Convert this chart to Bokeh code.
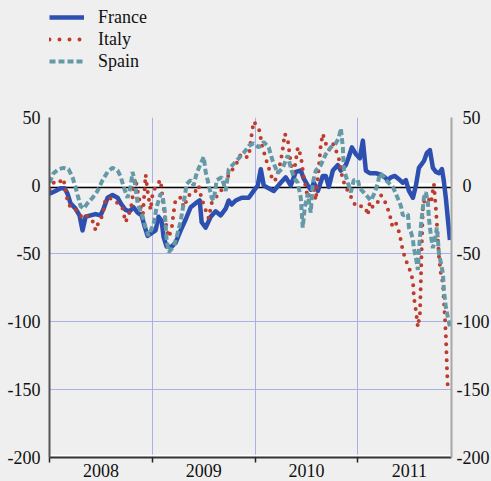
from bokeh.plotting import figure
from bokeh.layouts import column
from bokeh.models import Range1d, FixedTicker, LinearAxis, Legend, LegendItem, Span
from bokeh.embed import file_html
from bokeh.resources import INLINE

# ---------------- data (decimal years, index values) ----------------
france_x = [2008.000, 2008.058, 2008.107, 2008.146, 2008.175, 2008.204, 2008.253, 2008.292, 2008.321, 2008.351,
            2008.399, 2008.448, 2008.497, 2008.526, 2008.565, 2008.613, 2008.662, 2008.701, 2008.740, 2008.779,
            2008.818, 2008.857, 2008.896, 2008.925, 2008.954, 2008.993, 2009.032, 2009.061, 2009.091, 2009.110,
            2009.139, 2009.188, 2009.227, 2009.276, 2009.324, 2009.373, 2009.422, 2009.461, 2009.480, 2009.519,
            2009.568, 2009.616, 2009.665, 2009.714, 2009.743, 2009.772, 2009.811, 2009.870, 2009.938, 2009.986,
            2010.025, 2010.055, 2010.084, 2010.132, 2010.181, 2010.249, 2010.298, 2010.347, 2010.395, 2010.444,
            2010.473, 2010.512, 2010.541, 2010.571, 2010.610, 2010.658, 2010.687, 2010.717, 2010.756, 2010.804,
            2010.834, 2010.882, 2010.911, 2010.941, 2010.980, 2011.018, 2011.048, 2011.077, 2011.116, 2011.174,
            2011.223, 2011.262, 2011.291, 2011.320, 2011.359, 2011.408, 2011.437, 2011.466, 2011.496, 2011.535,
            2011.564, 2011.593, 2011.642, 2011.671, 2011.700, 2011.729, 2011.759, 2011.788, 2011.817, 2011.836,
            2011.856, 2011.875, 2011.895]
france_y = [-6, -4, -2, -2, -6, -13, -17, -22, -33, -23,
            -22, -21, -22, -17, -9, -7, -9, -14, -18, -19,
            -16, -20, -22, -30, -37, -35, -33, -23, -26, -38,
            -45, -45, -42, -33, -25, -16, -13, -11, -27, -31,
            -23, -19, -22, -17, -11, -14, -11, -9, -9, -4,
            0, 12, 0, -2, -4, 2, 6, 0, 10, 11,
            5, 0, -3, 2, -4, 7, 7, -1, 11, 15,
            11, 15, 21, 28, 23, 20, 33, 11, 9, 9,
            8, 6, 4, 6, 7, 4, 2, 4, -4, -9,
            0, 13, 18, 24, 26, 13, 10, 9, 12, 3,
            -10, -25, -40]

italy_x = [2008.000, 2008.029, 2008.068, 2008.107, 2008.136, 2008.156, 2008.175, 2008.204, 2008.243, 2008.282,
           2008.321, 2008.360, 2008.399, 2008.428, 2008.448, 2008.477, 2008.516, 2008.545, 2008.574, 2008.613,
           2008.662, 2008.711, 2008.740, 2008.769, 2008.798, 2008.818, 2008.837, 2008.857, 2008.886, 2008.906,
           2008.935, 2008.954, 2008.983, 2009.003, 2009.032, 2009.061, 2009.081, 2009.100, 2009.120, 2009.139,
           2009.159, 2009.188, 2009.207, 2009.227, 2009.276, 2009.305, 2009.334, 2009.373, 2009.422, 2009.451,
           2009.480, 2009.519, 2009.548, 2009.577, 2009.626, 2009.665, 2009.694, 2009.723, 2009.762, 2009.811,
           2009.860, 2009.908, 2009.938, 2009.967, 2009.986, 2010.016, 2010.045, 2010.064, 2010.084, 2010.103,
           2010.132, 2010.162, 2010.191, 2010.220, 2010.249, 2010.269, 2010.288, 2010.317, 2010.347, 2010.376,
           2010.395, 2010.415, 2010.444, 2010.473, 2010.512, 2010.541, 2010.571, 2010.590, 2010.619, 2010.639,
           2010.658, 2010.687, 2010.717, 2010.756, 2010.785, 2010.814, 2010.843, 2010.872, 2010.902, 2010.931,
           2010.960, 2010.999, 2011.038, 2011.077, 2011.096, 2011.116, 2011.145, 2011.194, 2011.223, 2011.252,
           2011.281, 2011.311, 2011.330, 2011.359, 2011.388, 2011.408, 2011.437, 2011.466, 2011.496, 2011.535,
           2011.544, 2011.564, 2011.583, 2011.603, 2011.612, 2011.622, 2011.632, 2011.651, 2011.681, 2011.710,
           2011.739, 2011.759, 2011.778, 2011.788, 2011.807, 2011.827, 2011.836, 2011.846, 2011.856, 2011.866,
           2011.875]
italy_y = [-3, 1, 4, 3, 5, -4, -11, -16, -17, -20,
           -24, -22, -25, -27, -33, -27, -22, -10, -9, -10,
           -13, -17, -27, -22, -14, -3, 5, -4, -15, -24,
           8, -4, -18, -6, -1, 2, 4, -10, -22, -31,
           -38, -32, -20, -10, -9, -16, -11, -5, -4, 0,
           -10, -18, -24, -13, -8, -5, 2, 5, 10, 15,
           23, 21, 21, 38, 47, 44, 40, 30, 25, 20,
           13, 6, 3, 9, 18, 27, 38, 34, 16, 9,
           18, 28, 22, 6, -9, -5, -3, -11, 13, 30,
           38, 31, 26, 31, 26, 20, 8, 0, -4, -8,
           -13, -16, -15, -17, -22, -12, -16, -12, -7, -10,
           -15, -22, -29, -26, -31, -37, -48, -55, -60, -70,
           -82, -92, -104, -94, -70, -40, -15, -10, -9, -13,
           1, -18, -40, -52, -65, -72, -85, -97, -112, -135,
           -151]

spain_x = [2008.000, 2008.039, 2008.088, 2008.136, 2008.185, 2008.224, 2008.253, 2008.273, 2008.302, 2008.331,
           2008.370, 2008.419, 2008.467, 2008.516, 2008.565, 2008.613, 2008.662, 2008.691, 2008.721, 2008.759,
           2008.789, 2008.808, 2008.828, 2008.857, 2008.906, 2008.935, 2008.964, 2009.013, 2009.042, 2009.081,
           2009.100, 2009.120, 2009.139, 2009.159, 2009.207, 2009.237, 2009.276, 2009.305, 2009.334, 2009.373,
           2009.402, 2009.431, 2009.470, 2009.500, 2009.519, 2009.538, 2009.577, 2009.597, 2009.626, 2009.675,
           2009.714, 2009.743, 2009.792, 2009.840, 2009.889, 2009.938, 2009.986, 2010.035, 2010.084, 2010.132,
           2010.171, 2010.220, 2010.269, 2010.317, 2010.347, 2010.376, 2010.415, 2010.444, 2010.463, 2010.483,
           2010.512, 2010.541, 2010.561, 2010.590, 2010.639, 2010.687, 2010.736, 2010.785, 2010.814, 2010.834,
           2010.853, 2010.863, 2010.902, 2010.931, 2010.960, 2010.999, 2011.018, 2011.067, 2011.126, 2011.165,
           2011.194, 2011.213, 2011.242, 2011.272, 2011.311, 2011.340, 2011.369, 2011.418, 2011.437, 2011.486,
           2011.496, 2011.515, 2011.535, 2011.544, 2011.564, 2011.583, 2011.593, 2011.612, 2011.632, 2011.642,
           2011.661, 2011.681, 2011.690, 2011.710, 2011.729, 2011.749, 2011.768, 2011.778, 2011.788, 2011.807,
           2011.827, 2011.836, 2011.856, 2011.875, 2011.895]
spain_y = [2, 9, 12, 13, 12, 6, -1, -7, -15, -17,
           -13, -9, -4, 4, 10, 13, 11, 7, -1, -9,
           -1, 10, 3, -13, -23, -31, -37, -28, -16, -6,
           -8, -18, -40, -49, -45, -38, -26, -13, 1, 4,
           0, 9, 16, 21, 10, 4, -9, -11, 4, 6,
           -4, 12, 16, 20, 24, 29, 31, 28, 32, 28,
           18, 9, 13, 22, 13, 6, 2, -9, -31, -16,
           -6, -20, 2, 11, 15, 23, 28, 31, 35, 42,
           28, 12, 2, -5, 4, 4, -2, -6, -11, -5,
           2, 9, 7, 4, 1, -1, -6, -15, -22, -21,
           -31, -34, -40, -46, -53, -62, -48, -30, -16, -9,
           -5, -13, -24, -37, -46, -40, -31, -40, -50, -57,
           -65, -77, -90, -97, -104]

series_names = ["France", "Italy", "Spain"]
year_ticks = [2008, 2009, 2010, 2011]
year_label_pos = [2008.5, 2009.5, 2010.5, 2011.5]
year_labels = ["2008", "2009", "2010", "2011"]
y_ticks = [50, 0, -50, -100, -150, -200]
y_labels_left = ["50", "0", "-50", "-100", "-150", "-200"]
y_labels_right = ["\u200450", "\u20040", "-50", "-100", "-150", "-200"]
y_grid_ticks = [50, -50, -100, -150]
x_grid_ticks = [2009, 2010, 2011]

# ---------------- styling ----------------
BG = "#EFEFEF"
GRID = "#A9B0E6"
FONT = "Liberation Serif"
FS = "18px"
C_FR = "#2D4FB0"
C_IT = "#BE3C2D"
C_ES = "#6699A8"
FR_STYLE = dict(line_color=C_FR, line_width=4.5, line_join="round")
IT_STYLE = dict(line_color=C_IT, line_width=4, line_dash="0 8", line_cap="round", line_join="round")
ES_STYLE = dict(line_color=C_ES, line_width=4, line_dash="6 3")

# ---------------- main chart ----------------
p = figure(frame_width=402, frame_height=340,
           x_range=Range1d(2008.0, 2011.91), y_range=Range1d(-200, 50),
           output_backend="svg", toolbar_location=None, title=None,
           background_fill_color=BG, border_fill_color=BG,
           min_border_left=49, min_border_right=40, min_border_top=12, min_border_bottom=10)
p.outline_line_color = None

p.xgrid.ticker = FixedTicker(ticks=x_grid_ticks)
p.ygrid.ticker = FixedTicker(ticks=y_grid_ticks)
for g in (p.xgrid, p.ygrid):
    g.grid_line_color = GRID
    g.grid_line_width = 1

xa = p.xaxis[0]
xa.ticker = FixedTicker(ticks=year_label_pos, minor_ticks=year_ticks)
xa.major_label_overrides = {k: v for k, v in zip(year_label_pos, year_labels)}
xa.major_tick_line_color = None
xa.major_tick_in = 0
xa.major_tick_out = 0
xa.minor_tick_line_color = "#222222"
xa.minor_tick_line_width = 1.5
xa.minor_tick_in = 0
xa.minor_tick_out = 5
xa.axis_line_color = "#333333"
xa.axis_line_width = 2
xa.major_label_standoff = 1
xa.major_label_text_font = FONT
xa.major_label_text_font_size = FS
xa.major_label_text_color = "#111111"

ya = p.yaxis[0]
ya.ticker = FixedTicker(ticks=y_ticks)
ya.major_label_overrides = {k: v for k, v in zip(y_ticks, y_labels_left)}
ya.major_tick_in = 0
ya.major_tick_out = 0
ya.minor_tick_line_color = None
ya.axis_line_color = "#555555"
ya.axis_line_width = 2
ya.major_label_standoff = 9
ya.major_label_text_font = FONT
ya.major_label_text_font_size = FS
ya.major_label_text_color = "#111111"

yr = LinearAxis(ticker=FixedTicker(ticks=y_ticks))
yr.major_label_overrides = {k: v for k, v in zip(y_ticks, y_labels_right)}
yr.major_tick_in = 0
yr.major_tick_out = 0
yr.minor_tick_line_color = None
yr.axis_line_color = "#A8A8A8"
yr.axis_line_width = 2
yr.major_label_standoff = 5
yr.major_label_text_font = FONT
yr.major_label_text_font_size = FS
yr.major_label_text_color = "#111111"
p.add_layout(yr, "right")

p.add_layout(Span(location=0.6, dimension="width", line_color="white", line_width=3, level="underlay"))
p.add_layout(Span(location=-1.4, dimension="width", line_color="black", line_width=1.5, level="underlay"))
p.add_layout(Span(location=-198.8, dimension="width", line_color="white", line_width=2, level="underlay"))

rf = p.line(france_x, france_y, **FR_STYLE)
ri = p.line(italy_x, italy_y, **IT_STYLE)
rs = p.line(spain_x, spain_y, **ES_STYLE)

# ---------------- legend strip above the chart ----------------
top = figure(frame_width=402, frame_height=105, x_range=Range1d(0, 1), y_range=Range1d(0, 1),
             output_backend="svg", toolbar_location=None, title=None,
             x_axis_location=None, y_axis_location=None,
             background_fill_color=BG, border_fill_color=BG,
             min_border_left=49, min_border_right=40, min_border_top=0, min_border_bottom=0)
top.outline_line_color = None
top.grid.visible = False
# legend key lines: placed outside the strip's visible range so only the legend keys show
key_x = [5, 6]
key_y = [5, 6]
lf = top.line(key_x, key_y, **FR_STYLE)
li = top.line(key_x, key_y, line_color=C_IT, line_width=4, line_dash="0 10", line_cap="round")
ls = top.line(key_x, key_y, **ES_STYLE)

legend = Legend(items=[LegendItem(label=series_names[0], renderers=[lf]),
                       LegendItem(label=series_names[1], renderers=[li]),
                       LegendItem(label=series_names[2], renderers=[ls])],
                location=(0, 33), orientation="vertical",
                padding=0, margin=0, spacing=0,
                glyph_width=35, glyph_height=22, label_height=22, label_standoff=14,
                border_line_color=None, background_fill_alpha=0,
                label_text_font=FONT, label_text_font_size=FS, label_text_color="#111111")
top.add_layout(legend)

layout = column(top, p, spacing=0)

template = "{% block preamble %}<style>html, body { background: #EFEFEF; }</style>{% endblock %}"
open("out.html", "w").write(file_html(layout, INLINE, template=template))
